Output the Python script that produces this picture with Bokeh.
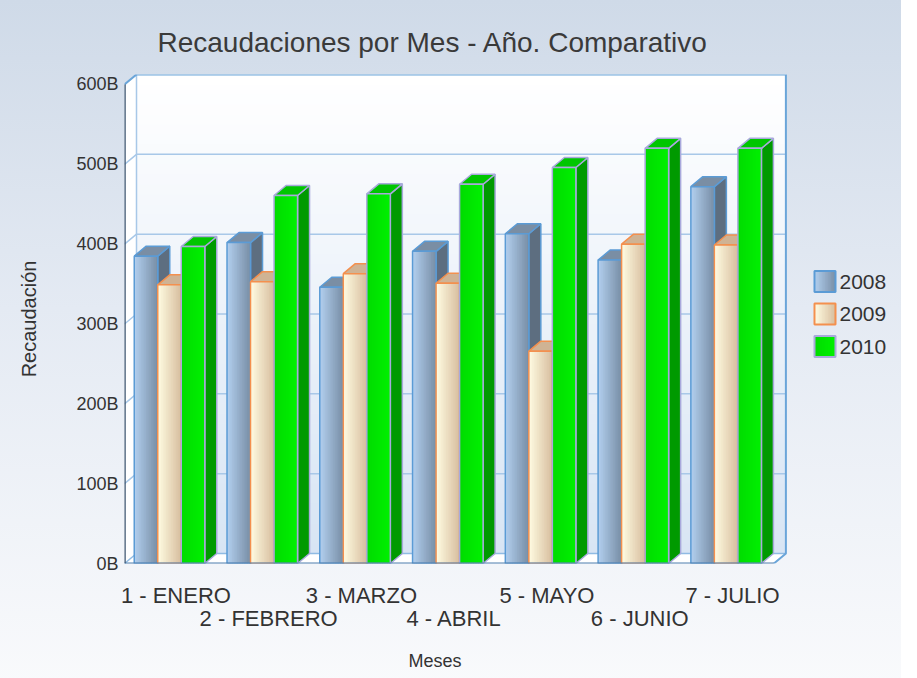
import numpy as np
from bokeh.plotting import figure
from bokeh.models import Range1d, LinearAxis, FixedTicker, CustomJSTickFormatter, Title
from bokeh.core.properties import value
from bokeh.embed import file_html
from bokeh.resources import INLINE

# ---------------- data ----------------
MONTHS = ["1 - ENERO", "2 - FEBRERO", "3 - MARZO", "4 - ABRIL", "5 - MAYO", "6 - JUNIO", "7 - JULIO"]
SERIES = ["2008", "2009", "2010"]
V2008 = [385, 402, 346, 391, 413, 380, 472]
V2009 = [349, 353, 363, 351, 266, 400, 399]
V2010 = [397, 461, 463, 475, 496, 520, 520]
Y_TICKS = [0, 100, 200, 300, 400, 500, 600]
VALUES = [V2008, V2009, V2010]

# ---------------- styles ----------------
STY = {
    "2008": dict(fl="#b0cdec", fr="#7a90a8", side="#5d6e80", top="#7a8ea4", border="#5b9bd5"),
    "2009": dict(fl="#fefae0", fr="#d8bfa0", side="#b9a07f", top="#cfb394", border="#f4904e"),
    "2010": dict(fl="#00dc00", fr="#00f000", side="#009a00", top="#00c600", border="#a9a9dc"),
}
FONT = "Liberation Sans"

# geometry (pixels)
FRAME_W, FRAME_H = 777, 489
XS = 92.77                   # px per category
C = 0.554                    # category start offset
X_START = -C
X_END = X_START + FRAME_W / XS
Y_END = 612.5
YS = FRAME_H / Y_END
DX = 12 / XS
DY = 10 / YS
OFF = 0.105
W = 0.2535
N = len(MONTHS)
YMAX = Y_TICKS[-1]

def ix(px):   # image px -> data x
    return X_START + (px - 132) / XS

def iy(py):   # image px -> data y
    return (571 - py) / YS

def lerp_hex(c1, c2, t):
    a = np.array([int(c1[i:i + 2], 16) for i in (1, 3, 5)])
    b = np.array([int(c2[i:i + 2], 16) for i in (1, 3, 5)])
    c = (a + (b - a) * t).round().astype(int)
    return "#%02x%02x%02x" % tuple(c)

p = figure(frame_width=FRAME_W, frame_height=FRAME_H,
           x_range=Range1d(X_START, X_END), y_range=Range1d(0, Y_END),
           x_axis_location=None, y_axis_location=None,
           toolbar_location=None, output_backend="svg",
           min_border_left=124, min_border_top=74, min_border_right=0, min_border_bottom=99)
p.outline_line_color = None
p.background_fill_alpha = 0
p.border_fill_alpha = 0
p.styles = {"background": "linear-gradient(180deg, #cfdae8 0%, #e4eaf3 45%, #f9fafc 100%)"}
for g in p.grid:
    g.visible = False

# ---------------- walls ----------------
NS = 48
edges = np.linspace(DY, YMAX + DY, NS + 1)
wall_cols = [lerp_hex("#d8e5f4", "#ffffff", k / (NS - 1)) for k in range(NS)]
p.quad(left=X_START + DX, right=X_START + N + DX, bottom=edges[:-1], top=edges[1:] + 0.8,
       fill_color=wall_cols, line_color=None)
p.patch([X_START, X_START + DX, X_START + DX, X_START], [0, DY, YMAX + DY, YMAX],
        fill_color="#ffffff", line_color=None)
p.patch([X_START, X_START + N, X_START + N + DX, X_START + DX], [0, 0, DY, DY],
        fill_color="#ffffff", line_color=None)

# gridlines
gx = [[X_START, X_START + DX, X_START + N + DX] for t in Y_TICKS[1:-1]]
gy = [[t, t + DY, t + DY] for t in Y_TICKS[1:-1]]
p.multi_line(gx, gy, line_color="#a8c8e8", line_width=1.5)
p.line([X_START + DX, X_START + DX], [DY, YMAX + DY], line_color="#a8c8e8", line_width=1.5)
p.line([X_START + DX, X_START + N + DX], [DY, DY], line_color="#8fbbe3", line_width=1.5)
p.line([X_START, X_START + DX], [0, DY], line_color="#8fbbe3", line_width=1.5)
# frame edges
p.line([X_START, X_START + DX, X_START + N + DX, X_START + N + DX, X_START + N],
       [YMAX, YMAX + DY, YMAX + DY, DY, 0], line_color="#6aa5d9", line_width=2)

# ---------------- bars ----------------
NSL = 14
for s, (name, vals) in enumerate(zip(SERIES, VALUES)):
    st = STY[name]
    vals = np.array(vals, dtype=float)
    x0 = np.arange(N) + X_START + OFF + s * W
    # side faces
    p.patches([[a + W, a + W + DX, a + W + DX, a + W] for a in x0],
              [[0, DY, v + DY, v] for v in vals],
              fill_color=st["side"], line_color=st["border"], line_width=1.5)
    # top faces
    p.patches([[a, a + DX, a + W + DX, a + W] for a in x0],
              [[v, v + DY, v + DY, v] for v in vals],
              fill_color=st["top"], line_color=st["border"], line_width=1.5)
    # front gradient
    L, R, B, T, COL = [], [], [], [], []
    for a, v in zip(x0, vals):
        for k in range(NSL):
            L.append(a + W * k / NSL)
            R.append(a + W * min(k + 1.6, NSL) / NSL)
            B.append(0)
            T.append(v)
            COL.append(lerp_hex(st["fl"], st["fr"], k / (NSL - 1)))
    p.quad(left=L, right=R, bottom=B, top=T, fill_color=COL, line_color=None)
    p.quad(left=x0, right=x0 + W, bottom=0, top=vals, fill_color=None,
           line_color=st["border"], line_width=1.5)

# front edges
p.line([X_START, X_START + N], [0, 0], line_color="#4f7fae", line_width=2)
p.line([X_START, X_START], [0, YMAX], line_color="#3e5670", line_width=2.5)

# ---------------- legend (manual) ----------------
LEG_Y = [289, 321.5, 354]
sw_l, sw_r = ix(822), ix(843)
for name, yc in zip(SERIES, LEG_Y):
    st = STY[name]
    b, t = iy(yc + 10.5), iy(yc - 10.5)
    L = [sw_l + (sw_r - sw_l) * k / NSL for k in range(NSL)]
    R = [sw_l + (sw_r - sw_l) * min(k + 1.6, NSL) / NSL for k in range(NSL)]
    cols = [lerp_hex(st["fl"], st["fr"], k / (NSL - 1)) for k in range(NSL)]
    p.quad(left=L, right=R, bottom=b, top=t, fill_color=cols, line_color=None)
    p.quad(left=sw_l, right=sw_r, bottom=b, top=t, fill_color=None,
           line_color=st["border"], line_width=2)
p.text(x=[ix(847)] * 3, y=[iy(v) for v in LEG_Y], text=SERIES,
       text_font=value(FONT), text_font_size="21px", text_color="#333333",
       text_baseline="middle", text_align="left")

# ---------------- axes ----------------
yaxis = LinearAxis(ticker=FixedTicker(ticks=Y_TICKS),
                   formatter=CustomJSTickFormatter(code="return tick + 'B'"),
                   axis_label="Recaudación")
yaxis.axis_line_color = None
yaxis.major_tick_line_color = None
yaxis.minor_tick_line_color = None
yaxis.major_tick_out = 0
yaxis.major_tick_in = 0
yaxis.major_label_standoff = 6
yaxis.major_label_text_font = FONT
yaxis.major_label_text_font_size = "18px"
yaxis.major_label_text_color = "#333333"
yaxis.axis_label_text_font = FONT
yaxis.axis_label_text_font_size = "20px"
yaxis.axis_label_text_font_style = "normal"
yaxis.axis_label_text_color = "#333333"
yaxis.axis_label_standoff = 33
p.add_layout(yaxis, "left")

fmt = CustomJSTickFormatter(args=dict(labels=MONTHS), code="return labels[Math.round(tick)]")
for ticks, standoff in ((list(range(0, N, 2)), 19), (list(range(1, N, 2)), -5)):
    ax = LinearAxis(ticker=FixedTicker(ticks=ticks), formatter=fmt)
    ax.axis_line_color = None
    ax.major_tick_line_color = None
    ax.minor_tick_line_color = None
    ax.major_tick_out = 0
    ax.major_tick_in = 0
    ax.major_label_standoff = standoff
    ax.major_label_text_font = FONT
    ax.major_label_text_font_size = "22px"
    ax.major_label_text_color = "#333333"
    p.add_layout(ax, "below")

p.title.text = "Recaudaciones por Mes - Año. Comparativo"
p.title.align = "left"
p.title.offset = 33
p.title.standoff = 34
p.title.text_font = FONT
p.title.text_font_size = "28px"
p.title.text_font_style = "normal"
p.title.text_color = "#3a3a3a"

xt = Title(text="Meses", align="left", offset=284, standoff=30,
           text_font=FONT, text_font_size="18px", text_font_style="normal",
           text_color="#333333")
p.add_layout(xt, "below")

open("out.html", "w").write(file_html(p, INLINE))
